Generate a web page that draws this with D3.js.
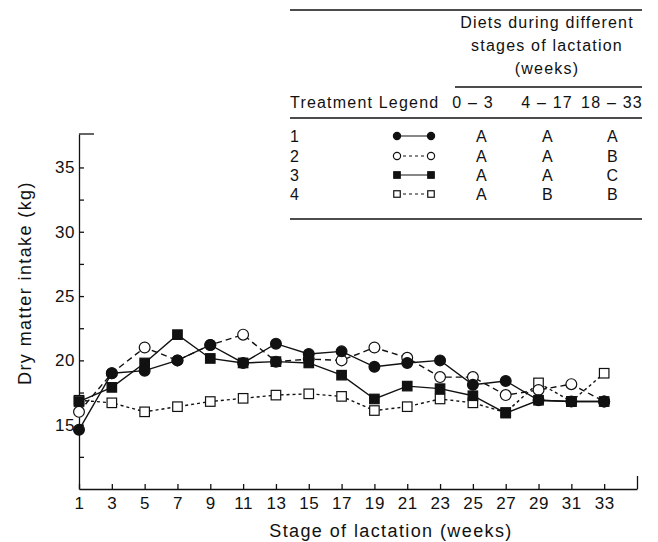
<!DOCTYPE html>
<html>
<head>
<meta charset="utf-8">
<script src="https://cdn.jsdelivr.net/npm/d3@7"></script>
<style>
  body { margin: 0; background: #fff; }
  svg { display: block; font-family: "Liberation Sans", Arial, Helvetica, sans-serif; }
  .axis text { font-size: 17px; letter-spacing: 0.6px; fill: #111; }
  .axis path, .axis line { stroke: #111; stroke-width: 1.3; }
  .axis-title { font-size: 18px; letter-spacing: 1.4px; fill: #111; }
  .table-text { font-size: 16px; letter-spacing: 1.2px; fill: #111; }
</style>
</head>
<body>
<svg id="chart"></svg>
<script>
// Stage of lactation (weeks)
const weeks = [1, 3, 5, 7, 9, 11, 13, 15, 17, 19, 21, 23, 25, 27, 29, 31, 33];

// Dry matter intake (kg) for each treatment
const treatment1 = [14.6, 19.0, 19.2, 20.0, 21.2, 19.8, 21.3, 20.5, 20.7, 19.5, 19.8, 20.0, 18.1, 18.4, 16.9, 16.8, 16.8];
const treatment2 = [16.0, 19.0, 21.0, 20.0, 21.2, 22.0, 19.9, 20.1, 20.0, 21.0, 20.2, 18.7, 18.7, 17.3, 17.7, 18.15, 16.8];
const treatment3 = [16.8, 17.9, 19.8, 22.0, 20.15, 19.8, 19.9, 19.8, 18.85, 17.0, 18.0, 17.8, 17.25, 15.9, 16.9, 16.8, 16.8];
const treatment4 = [16.9, 16.7, 16.0, 16.4, 16.8, 17.05, 17.3, 17.4, 17.2, 16.1, 16.4, 17.0, 16.7, 15.95, 18.25, 16.8, 19.0];

const yTickLabels = [15, 20, 25, 30, 35];

// Legend table
const treatmentIds = ['1', '2', '3', '4'];
const diet0to3 = ['A', 'A', 'A', 'A'];
const diet4to17 = ['A', 'A', 'A', 'B'];
const diet18to33 = ['A', 'B', 'C', 'B'];
const dietPeriods = ['0 – 3', '4 – 17', '18 – 33'];
const dietHeader = ['Diets during different', 'stages of lactation', '(weeks)'];

class LineChart {
  constructor(_config) {
    this.config = {
      parentElement: _config.parentElement,
      containerWidth: 658,
      containerHeight: 542,
      margin: {top: 134, right: 20, bottom: 52, left: 79},
      markerRadius: 5.4,
      squareSize: 9.5
    };
    this.initVis();
  }

  initVis() {
    let vis = this;
    const m = vis.config.margin;

    vis.svg = d3.select(vis.config.parentElement)
      .attr('width', vis.config.containerWidth)
      .attr('height', vis.config.containerHeight);

    vis.x = d3.scaleLinear()
      .domain([1, 35])
      .range([m.left, vis.config.containerWidth - m.right - 1]);

    vis.y = d3.scaleLinear()
      .domain([10, 37.6])
      .range([vis.config.containerHeight - m.bottom - 1, m.top]);

    // series in drawing order, bottom first
    vis.series = [
      {id: 4, values: treatment4, marker: 'square', filled: false, dash: '3,3'},
      {id: 2, values: treatment2, marker: 'circle', filled: false, dash: '6,4'},
      {id: 3, values: treatment3, marker: 'square', filled: true, dash: null},
      {id: 1, values: treatment1, marker: 'circle', filled: true, dash: null}
    ];

    vis.line = d3.line()
      .x(d => vis.x(d.week))
      .y(d => vis.y(d.value));

    vis.renderAxes();
    vis.renderVis();
    vis.renderTable();
  }

  renderAxes() {
    let vis = this;
    const x0 = vis.x(1), y0 = vis.y(10);

    const xAxis = d3.axisBottom(vis.x)
      .tickValues(d3.range(1, 36, 2))
      .tickSizeInner(-5)
      .tickSizeOuter(0)
      .tickPadding(8)
      .tickFormat(d => d <= 33 ? d : '');

    const xg = vis.svg.append('g')
      .attr('class', 'axis x-axis')
      .attr('transform', `translate(0,${y0})`)
      .call(xAxis);
    xg.attr('font-size', null).attr('font-family', null);
    // longer end mark at the right of the axis
    xg.selectAll('.tick').filter(d => d === 35).select('line').attr('y2', -13);

    const yAxis = d3.axisLeft(vis.y)
      .tickValues(d3.range(12.5, 36, 2.5))
      .tickSizeInner(-5)
      .tickSizeOuter(0)
      .tickPadding(4)
      .tickFormat(d => yTickLabels.includes(d) ? d : '');

    const yg = vis.svg.append('g')
      .attr('class', 'axis y-axis')
      .attr('transform', `translate(${x0},0)`)
      .call(yAxis);
    yg.attr('font-size', null).attr('font-family', null);
    // short cap at the top of the y axis
    yg.append('line')
      .attr('x1', 0).attr('x2', 15)
      .attr('y1', vis.y(37.6)).attr('y2', vis.y(37.6));

    vis.svg.append('text')
      .attr('class', 'axis-title')
      .attr('x', 391)
      .attr('y', 537)
      .attr('text-anchor', 'middle')
      .text('Stage of lactation (weeks)');

    vis.svg.append('text')
      .attr('class', 'axis-title')
      .attr('transform', 'translate(31,283) rotate(-90)')
      .attr('text-anchor', 'middle')
      .text('Dry matter intake (kg)');
  }

  drawMarkers(g, s, points, r, size) {
    const fill = s.filled ? '#111' : '#fff';
    if (s.marker === 'circle') {
      g.selectAll('circle')
        .data(points)
        .join('circle')
          .attr('cx', d => d.x)
          .attr('cy', d => d.y)
          .attr('r', r)
          .attr('fill', fill)
          .attr('stroke', '#111')
          .attr('stroke-width', 1.2);
    } else {
      g.selectAll('rect')
        .data(points)
        .join('rect')
          .attr('x', d => d.x - size / 2)
          .attr('y', d => d.y - size / 2)
          .attr('width', size)
          .attr('height', size)
          .attr('fill', fill)
          .attr('stroke', '#111')
          .attr('stroke-width', 1.2);
    }
  }

  renderVis() {
    let vis = this;

    const lineGroups = vis.svg.append('g').attr('class', 'lines');
    vis.series.forEach(s => {
      const data = weeks.map((w, i) => ({week: w, value: s.values[i]}));
      lineGroups.append('path')
        .datum(data)
        .attr('fill', 'none')
        .attr('stroke', '#111')
        .attr('stroke-width', 1.4)
        .attr('stroke-dasharray', s.dash)
        .attr('d', vis.line);
    });

    const markerGroups = vis.svg.append('g').attr('class', 'markers');
    vis.series.forEach(s => {
      const pts = weeks.map((w, i) => ({x: vis.x(w), y: vis.y(s.values[i])}));
      const g = markerGroups.append('g');
      vis.drawMarkers(g, s, pts, vis.config.markerRadius, vis.config.squareSize);
    });
  }

  renderTable() {
    let vis = this;
    const t = vis.svg.append('g').attr('class', 'legend-table');
    const left = 290, right = 642;
    const cols = [482, 548, 613];
    const headCols = [473, 547, 612];
    const rowY = [142, 162, 181, 200];

    const rule = (x1, x2, y) => t.append('line')
      .attr('x1', x1).attr('x2', x2).attr('y1', y).attr('y2', y)
      .attr('stroke', '#111').attr('stroke-width', 1.4);

    rule(left, right, 10);
    rule(455, right, 87);
    rule(left, right, 118);
    rule(left, right, 219);

    t.selectAll('.diet-head')
      .data(dietHeader)
      .join('text')
        .attr('class', 'table-text diet-head')
        .attr('x', 547)
        .attr('y', (d, i) => 28 + i * 23)
        .attr('text-anchor', 'middle')
        .text(d => d);

    t.append('text')
      .attr('class', 'table-text')
      .attr('x', left)
      .attr('y', 108)
      .text('Treatment Legend');

    t.selectAll('.period')
      .data(dietPeriods)
      .join('text')
        .attr('class', 'table-text period')
        .attr('x', (d, i) => headCols[i])
        .attr('y', 108)
        .attr('text-anchor', 'middle')
        .text(d => d);

    const rows = t.selectAll('.row')
      .data(treatmentIds)
      .join('g')
        .attr('class', 'row')
        .attr('transform', (d, i) => `translate(0,${rowY[i]})`);

    rows.append('text')
      .attr('class', 'table-text')
      .attr('x', left)
      .text(d => d);

    [diet0to3, diet4to17, diet18to33].forEach((col, ci) => {
      rows.append('text')
        .attr('class', 'table-text')
        .attr('x', cols[ci])
        .attr('text-anchor', 'middle')
        .text((d, i) => col[i]);
    });

    // legend symbol for each treatment
    const bySeries = {};
    vis.series.forEach(s => { bySeries[s.id] = s; });
    rows.each(function(d) {
      const s = bySeries[+d];
      const g = d3.select(this).append('g').attr('transform', 'translate(0,-6)');
      g.append('line')
        .attr('x1', 397).attr('x2', 431)
        .attr('stroke', '#111')
        .attr('stroke-width', 1.1)
        .attr('stroke-dasharray', s.dash ? '3,3' : null);
      vis.drawMarkers(g, s, [{x: 397, y: 0}, {x: 431, y: 0}], 3.6, 6.5);
    });
  }
}

const chart = new LineChart({parentElement: '#chart'});
</script>
</body>
</html>
